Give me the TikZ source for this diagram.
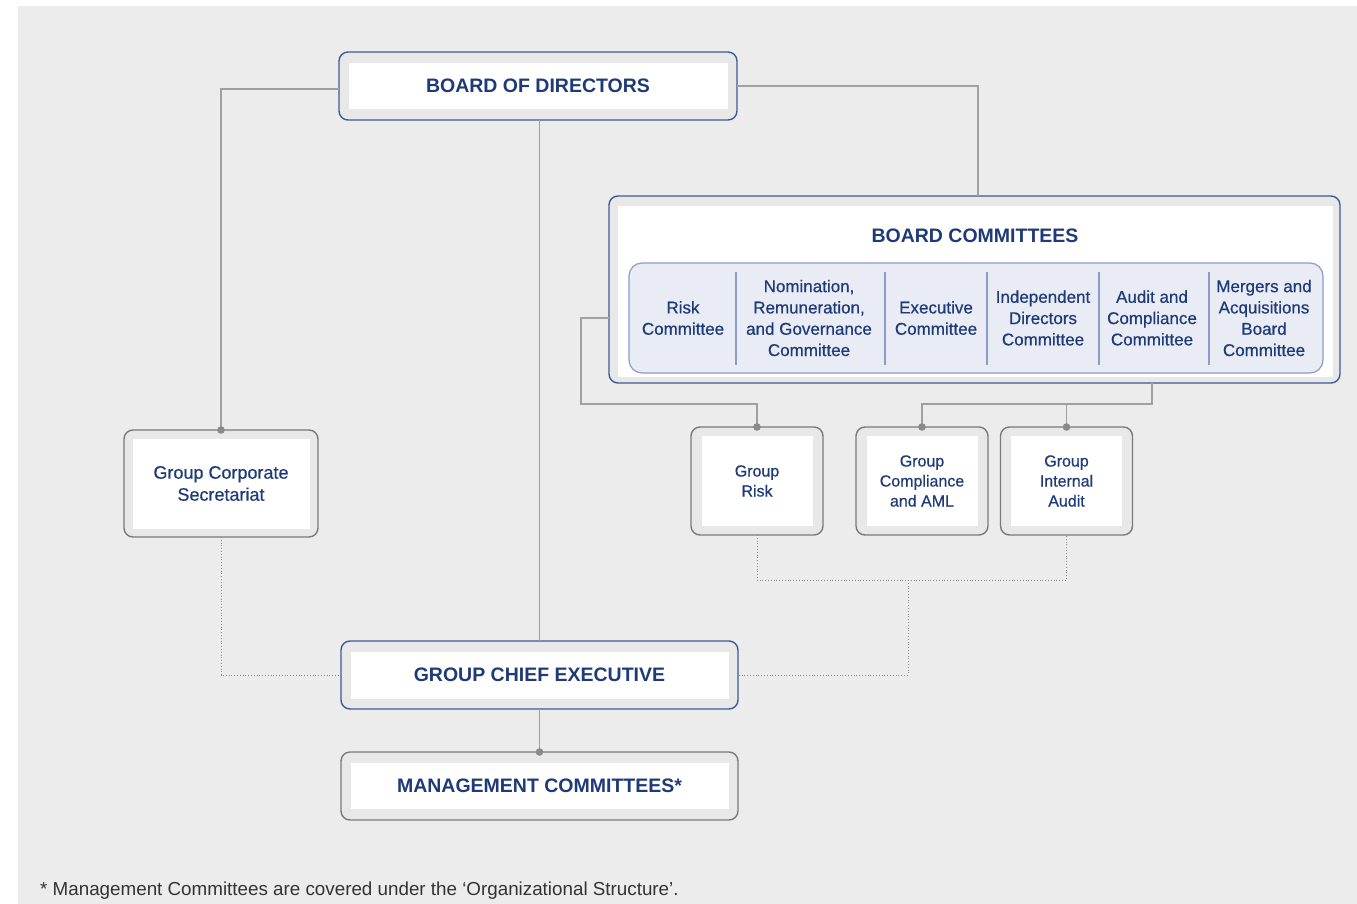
\documentclass[tikz,border=0pt]{standalone}
\usepackage{fontspec}
\setmainfont{Liberation Sans}
\newfontfamily\labelfont[FakeBold=0.5]{Liberation Sans}
\usetikzlibrary{positioning}

\definecolor{paper}{HTML}{ECECEC}
\definecolor{band}{HTML}{E8E8E8}
\definecolor{navy}{HTML}{1E3A78}
\definecolor{navyline}{HTML}{3D5A99}
\definecolor{greyline}{HTML}{7A7A7A}
\definecolor{linkgrey}{HTML}{A0A0A0}
\definecolor{dotgrey}{HTML}{8A8A8A}
\definecolor{lilac}{HTML}{E9EBF5}
\definecolor{lilacline}{HTML}{8E9AC8}
\definecolor{notegrey}{HTML}{333333}

\begin{document}
\begin{tikzpicture}[x=1pt,y=-1pt,
 box frame/.style={rectangle,rounded corners=9pt,line width=1.4pt,fill=band,inner sep=0pt,outer sep=0pt},
 blue frame/.style={box frame,draw=navyline},
 grey frame/.style={box frame,draw=greyline},
 panel/.style={rectangle,fill=white,inner sep=0pt,align=center,text=navy},
 title/.style={font=\fontsize{19.5}{23}\selectfont\bfseries},
 unit/.style={font=\labelfont\fontsize{16}{20}\selectfont},
 member/.style={align=center,text=navy,inner sep=0pt,font=\labelfont\fontsize{17}{21.3}\selectfont},
 link/.style={draw=linkgrey,line width=1.3pt},
 dotlink/.style={draw=dotgrey,line width=1pt,dash pattern=on 1pt off 1.8pt}]

  \useasboundingbox (0,0) rectangle (1357,904);
  \fill[paper] (18,6) rectangle (1357,904);

  % board of directors
  \node[blue frame,minimum width=398pt,minimum height=68pt] (bod) at (538,86) {};
  \node[panel,title,minimum width=379pt,minimum height=46pt] (bod-in) at (bod) {BOARD OF DIRECTORS};

  % board committees with the six committees
  \node[blue frame,minimum width=731pt,minimum height=187pt] (bc) at (974.5,289.5) {};
  \node[panel,minimum width=715pt,minimum height=171pt] (bc-in) at (975.5,291.5) {};
  \node[title,text=navy] (bc-title) at (975,236) {BOARD COMMITTEES};
  \node[rectangle,rounded corners=13pt,fill=lilac,draw=lilacline,line width=1.2pt,
        minimum width=694pt,minimum height=110pt] (list) at (976,318) {};
  \foreach \dx in {736,885,987,1099,1209}
    \draw[lilacline,line width=1.4pt] (\dx,272) -- (\dx,365);
  \foreach \cx/\cname/\ctext in {683/risk/{Risk\\Committee},
      809/nrg/{Nomination,\\Remuneration,\\and Governance\\Committee},
      936/exec/{Executive\\Committee},
      1043/idc/{Independent\\Directors\\Committee},
      1152/audit/{Audit and\\Compliance\\Committee},
      1264/mna/{Mergers and\\Acquisitions\\Board\\Committee}}
    \node[member] (\cname) at (\cx,318) {\ctext};

  % secretariat and control units
  \node[grey frame,minimum width=194pt,minimum height=107pt] (gcs) at (221,483.5) {};
  \node[panel,minimum width=177pt,minimum height=90pt,font=\labelfont\fontsize{18}{22}\selectfont] (gcs-in) at (gcs) {Group Corporate\\Secretariat};

  \node[grey frame,minimum width=132pt,minimum height=108pt] (grisk) at (757,481) {};
  \node[panel,unit,minimum width=111pt,minimum height=90pt] (grisk-in) at (grisk) {Group\\Risk};
  \node[grey frame,minimum width=132pt,minimum height=108pt] (gca) at (922,481) {};
  \node[panel,unit,minimum width=111pt,minimum height=90pt] (gca-in) at (gca) {Group\\Compliance\\and AML};
  \node[grey frame,minimum width=132pt,minimum height=108pt] (gia) at (1066.5,481) {};
  \node[panel,unit,minimum width=111pt,minimum height=90pt] (gia-in) at (gia) {Group\\Internal\\Audit};

  % executive side
  \node[blue frame,minimum width=397pt,minimum height=68pt] (gce) at (539.5,675) {};
  \node[panel,title,minimum width=378pt,minimum height=47pt] (gce-in) at (gce) {GROUP CHIEF EXECUTIVE};
  \node[grey frame,minimum width=397pt,minimum height=68pt,below=43pt of gce] (mc) {};
  \node[panel,title,minimum width=378pt,minimum height=46pt] (mc-in) at (mc) {MANAGEMENT COMMITTEES*};

  \node[anchor=west,text=notegrey,inner sep=0pt,font=\fontsize{18.8}{22}\selectfont] (note) at (40,891)
    {* Management Committees are covered under the ‘Organizational Structure’.};

  % reporting lines
  \coordinate (busL) at (581,404);
  \coordinate (busR) at (1066.5,404);
  \coordinate (busD) at (908,580);
  \draw[link] ([yshift=-3pt]bod.west) -| (gcs.north);
  \draw[link] (bod.east) -| ([xshift=3.5pt]bc.north);
  \draw[link] (gce.north |- bod.south) -- (gce.north);
  \draw[link] (gce.south) -- (mc.north);
  \draw[link] (bc.west |- list.west) -| (busL) -| (grisk.north);
  \draw[link] (audit |- bc.south) |- (busR) -| (gca.north);
  \draw[link] (busR) -- (gia.north);

  \draw[dotlink] (gcs.south) |- (gce.west);
  \draw[dotlink] (grisk.south) |- (busD) -| (gia.south);
  \draw[dotlink] (busD) |- (gce.east);

  \foreach \n in {gcs,grisk,gca,gia,mc}
    \fill[dotgrey] (\n.north) circle[radius=3.8pt];
\end{tikzpicture}
\end{document}
